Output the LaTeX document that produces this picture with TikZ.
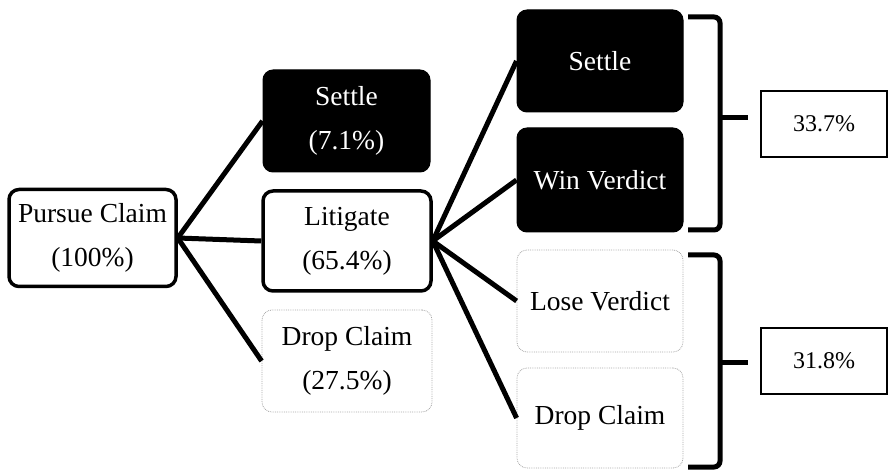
\documentclass[tikz,border=0pt]{standalone}
\usepackage{fontspec}
\setmainfont{Liberation Serif}
\begin{document}
\begin{tikzpicture}[x=1pt,y=-1pt,
  box/.style={rounded corners=10pt, inner sep=0pt, align=center,
    font=\fontsize{27.5}{44}\selectfont},
  solidbox/.style={box, draw=black, line width=3.5pt, fill=white},
  darkbox/.style={box, draw=black, line width=1pt, fill=black, text=white},
  faintbox/.style={box, draw=black!35, densely dotted, line width=0.8pt},
  conn/.style={line width=5pt},
  bracepath/.style={line width=5pt, rounded corners=6pt},
  pct/.style={draw=black, line width=2.2pt, minimum width=126pt, minimum height=66pt,
    inner sep=0pt, font=\fontsize{24}{28}\selectfont}]
\useasboundingbox (0,0) rectangle (889,470);

% first level
\node[solidbox, minimum width=167pt, minimum height=97pt] (pursue) at (92.5,238) {Pursue Claim\\(100\%)};
\node[darkbox, minimum width=167pt, minimum height=102pt] (settleA) at (346.5,121) {Settle\\(7.1\%)};
\node[solidbox, minimum width=168pt, minimum height=100pt] (litig) at (347,241) {Litigate\\(65.4\%)};
\node[faintbox, minimum width=170pt, minimum height=102pt] (dropA) at (347,361) {Drop Claim\\(27.5\%)};

% second level
\node[darkbox, minimum width=166pt, minimum height=102pt] (settleB) at (600,61) {Settle};
\node[darkbox, minimum width=166pt, minimum height=104pt] (win) at (600,180) {Win Verdict};
\node[faintbox, minimum width=166pt, minimum height=102pt] (lose) at (600,301) {Lose Verdict};
\node[faintbox, minimum width=166pt, minimum height=100pt] (dropB) at (600,418) {Drop Claim};

% connectors
\draw[conn] (pursue.east) -- (settleA.west);
\draw[conn] (pursue.east) -- (litig.west);
\draw[conn] (pursue.east) -- (dropA.west);
\draw[conn] (litig.east) -- (settleB.west);
\draw[conn] (litig.east) -- (win.west);
\draw[conn] (litig.east) -- (lose.west);
\draw[conn] (litig.east) -- (dropB.west);

% braces
\draw[bracepath] (688,17) -| (720,230) -- (688,230);
\draw[line width=5pt] (720,118) -- (748,118);
\draw[bracepath] (688,255) -| (720,467) -- (688,467);
\draw[line width=5pt] (720,362) -- (748,362);

% results
\node[pct] (pA) at (824,124) {33.7\%};
\node[pct] (pB) at (824,361) {31.8\%};
\end{tikzpicture}
\end{document}
